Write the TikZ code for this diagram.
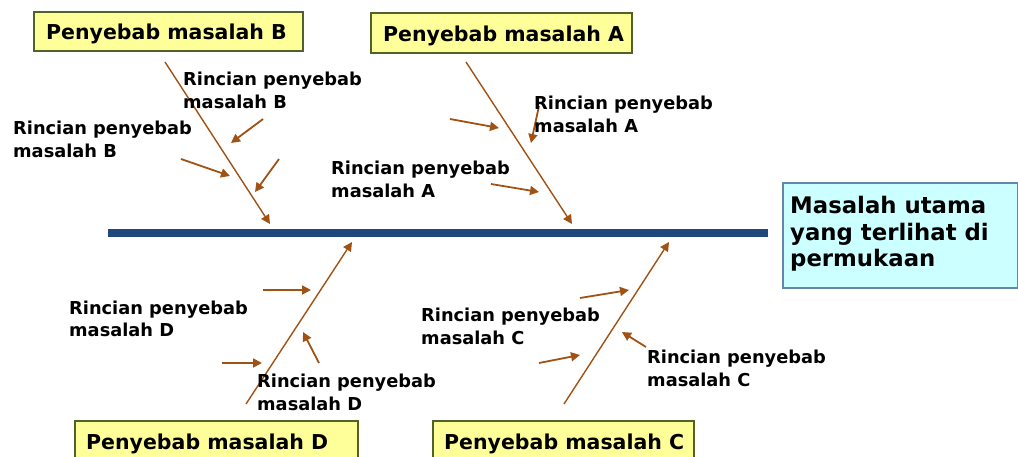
\documentclass[tikz,border=0pt]{standalone}
\usepackage{fontspec}
\setmainfont{DejaVu Sans}
\usetikzlibrary{arrows.meta}
\definecolor{bone}{RGB}{160,82,20}
\definecolor{spine}{RGB}{31,73,125}
\definecolor{causefill}{RGB}{255,255,153}
\definecolor{causeedge}{RGB}{79,98,40}
\definecolor{headfill}{RGB}{204,255,255}
\definecolor{headedge}{RGB}{100,135,170}
\tikzset{
  bonearrow/.style={draw=bone, line width=1.4pt, -{Triangle[length=9pt,width=9pt]}},
  twig/.style={bonearrow, line width=1.8pt},
  % two-line labels, placed by the baseline of their last line
  detail/.style={font=\fontsize{17.8}{23}\bfseries\selectfont, anchor=base west, inner sep=0pt, align=left},
  causebox/.style={draw=causeedge, fill=causefill, line width=1.2pt},
  causetext/.style={font=\fontsize{20.5}{24}\bfseries\selectfont, anchor=base west, inner sep=0pt},
  headtext/.style={font=\fontsize{22.8}{26.5}\bfseries\selectfont, anchor=base west, inner sep=0pt, align=left},
}
\begin{document}
\begin{tikzpicture}[x=1pt,y=-1pt]
\useasboundingbox (0,0) rectangle (1018,457);
% head of the fish
\draw[draw=headedge, fill=headfill, line width=1.2pt] (783,183) rectangle (1017.4,288);
\node[headtext] (head) at (790,267) {Masalah utama\\yang terlihat di\\permukaan};
% spine
\draw[spine, line width=8pt] (108,233) coordinate (s0) -- (768,233) coordinate (s1);
% cause boxes
\draw[causebox] (34,12) rectangle (303,51);
\node[causetext] (cB) at (46,40) {Penyebab masalah B};
\draw[causebox] (371,13) rectangle (632,53);
\node[causetext] (cA) at (383,42) {Penyebab masalah A};
\draw[causebox] (75,421) rectangle (358,470);
\node[causetext] (cD) at (86,449) {Penyebab masalah D};
\draw[causebox] (433,421) rectangle (694,470);
\node[causetext] (cC) at (444,449) {Penyebab masalah C};
% main bones
\coordinate (bB0) at (165,62); \coordinate (bB1) at (270,224);
\coordinate (bA0) at (466,62); \coordinate (bA1) at (572,224);
\coordinate (bD0) at (246,404); \coordinate (bD1) at (352,242);
\coordinate (bC0) at (564,404); \coordinate (bC1) at (669,242);
\draw[bonearrow] (bB0) -- (bB1);
\draw[bonearrow] (bA0) -- (bA1);
\draw[bonearrow] (bD0) -- (bD1);
\draw[bonearrow] (bC0) -- (bC1);
% small bones
\draw[twig] (263,119) coordinate (b1s) -- (231,143) coordinate (b1e);
\draw[twig] (181,159) coordinate (b2s) -- (230,176) coordinate (b2e);
\draw[twig] (279,159) coordinate (b3s) -- (255,192) coordinate (b3e);
\draw[twig] (450,119) coordinate (a1s) -- (499,128) coordinate (a1e);
\draw[twig] (539,106) coordinate (a2s) -- (531,143) coordinate (a2e);
\draw[twig] (491,184) coordinate (a3s) -- (539,192) coordinate (a3e);
\draw[twig] (263,290) coordinate (d1s) -- (311,290) coordinate (d1e);
\draw[twig] (222,363) coordinate (d2s) -- (262,363) coordinate (d2e);
\draw[twig] (319,363) coordinate (d3s) -- (303,332) coordinate (d3e);
\draw[twig] (580,298) coordinate (c1s) -- (629,290) coordinate (c1e);
\draw[twig] (539,363) coordinate (c2s) -- (580,355) coordinate (c2e);
\draw[twig] (646,347) coordinate (c3s) -- (622,332) coordinate (c3e);
% detail labels
\node[detail] (lB1) at (183,109) {Rincian penyebab\\masalah B};
\node[detail] (lB2) at (13,158) {Rincian penyebab\\masalah B};
\node[detail] (lA1) at (534,133) {Rincian penyebab\\masalah A};
\node[detail] (lA2) at (331,198) {Rincian penyebab\\masalah A};
\node[detail] (lD1) at (69,337) {Rincian penyebab\\masalah D};
\node[detail] (lD2) at (257,410) {Rincian penyebab\\masalah D};
\node[detail] (lC1) at (421,344) {Rincian penyebab\\masalah C};
\node[detail] (lC2) at (647,386) {Rincian penyebab\\masalah C};
\end{tikzpicture}
\end{document}
